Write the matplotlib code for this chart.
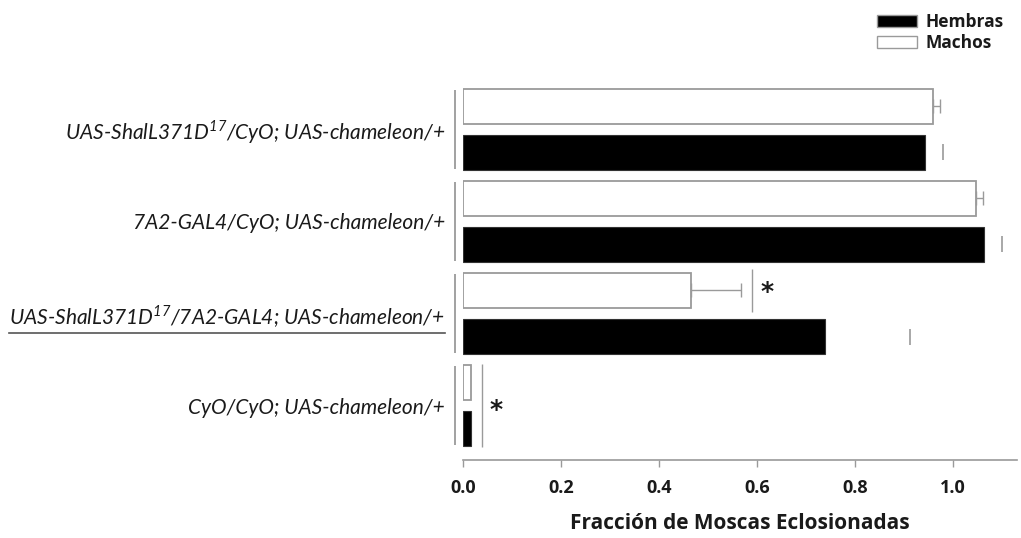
"""
    Fracción de moscas eclosionadas por genotipo (hembras / machos)
"""
from matplotlib import pyplot as plt
from matplotlib.patches import Patch
from matplotlib.lines import Line2D

plt.rcParams['font.family'] = ['Open Sans', 'DejaVu Sans']

genotipos = [
    r'UAS-ShalL371D$^{\mathregular{17}}$/CyO; UAS-chameleon/+',
    '7A2-GAL4/CyO; UAS-chameleon/+',
    r'UAS-ShalL371D$^{\mathregular{17}}$/7A2-GAL4; UAS-chameleon/+',
    'CyO/CyO; UAS-chameleon/+',
]
machos = [0.958, 1.046, 0.466, 0.016]
machos_err = [0.014, 0.014, 0.100, 0.0]
hembras = [0.942, 1.062, 0.738, 0.016]
hembras_err = [0.038, 0.038, 0.173, 0.0]

gris = '#9a9a9a'
texto = '#1a1a1a'

fig = plt.figure(figsize=(10.21, 5.38), dpi=100)
ax = fig.add_axes([0.4535, 0.145, 0.5426, 0.697])

# grupo de arriba = 3, abajo = 0
y = [3 - i for i in range(len(genotipos))]
alto = 0.38
sep = 0.25

y_m = [v + sep for v in y]
y_h = [v - sep for v in y]

ax.barh(y_m, machos, height=alto, color='white', edgecolor=gris, linewidth=1.3)
ax.barh(y_h, hembras, height=alto, color='black', edgecolor='#333333', linewidth=0.8)

# barras de error de machos (solo hacia la derecha)
for yy, v, e in zip(y_m, machos, machos_err):
    if e > 0:
        ax.errorbar(v, yy, xerr=[[0], [e]], fmt='none', ecolor=gris,
                    elinewidth=1.0, capsize=5, capthick=1.0)

# en hembras solo se ve el "cap" de la derecha
for yy, v, e in zip(y_h, hembras, hembras_err):
    if e > 0:
        eb = ax.errorbar(v, yy, xerr=[[0], [e]], fmt='none', ecolor=gris,
                         elinewidth=1.0, capsize=6, capthick=1.2)
        eb[2][0].set_visible(False)
        eb[1][0].set_visible(False)

# lineas verticales por grupo a la izquierda
for yy in y:
    ax.vlines(-0.017, yy - 0.43, yy + 0.43, color=gris, linewidth=1.3, clip_on=False)

# significancia
ax.vlines(0.59, y_m[2] - 0.23, y_m[2] + 0.23, color=gris, linewidth=1.0)
ax.text(0.607, y_m[2] - 0.02, '*', fontsize=18, fontweight='bold', color=texto,
        ha='left', va='center', family='DejaVu Sans')
ax.vlines(0.038, y[3] - 0.45, y[3] + 0.45, color=gris, linewidth=1.0)
ax.text(0.053, y[3] - 0.05, '*', fontsize=18, fontweight='bold', color=texto,
        ha='left', va='center', family='DejaVu Sans')

ax.set_xlim(0, 1.13)
ax.set_ylim(-0.59, 3.48)

ax.set_yticks(y)
ax.set_yticklabels(genotipos, fontsize=15, style='italic', color=texto,
                   family=['Lato', 'DejaVu Sans'])
ax.tick_params(axis='y', length=0, pad=13)

xt = [0.0, 0.2, 0.4, 0.6, 0.8, 1.0]
ax.set_xticks(xt)
ax.set_xticklabels(['{:.1f}'.format(v) for v in xt], fontsize=13, fontweight='bold', color=texto)
ax.tick_params(axis='x', length=5, width=1.0, color=gris, pad=9)

for s in ['left', 'top', 'right']:
    ax.spines[s].set_visible(False)
ax.spines['bottom'].set_color(gris)
ax.spines['bottom'].set_linewidth(1.2)

ax.set_xlabel('Fracción de Moscas Eclosionadas', fontsize=15, fontweight='bold',
              color=texto, labelpad=11)

# leyenda
handles = [Patch(facecolor='black', edgecolor=gris, label='Hembras'),
           Patch(facecolor='white', edgecolor=gris, label='Machos')]
leg = fig.legend(handles=handles, loc='upper right', bbox_to_anchor=(0.998, 1.005),
                 frameon=False, fontsize=12.5, handlelength=2.3, handleheight=0.7,
                 labelspacing=0.2, handletextpad=0.5)
for t in leg.get_texts():
    t.set_fontweight('bold')
    t.set_color(texto)

# subrayado de la tercera etiqueta
fig.canvas.draw()
bb = ax.get_yticklabels()[2].get_window_extent()
inv = fig.transFigure.inverted()
x0, y0 = inv.transform((bb.x0, bb.y0 - 3))
x1, _ = inv.transform((bb.x1, bb.y0))
fig.add_artist(Line2D([x0, x1], [y0, y0], color='#555555', linewidth=1.2))

fig.savefig('out.png', dpi=100)
